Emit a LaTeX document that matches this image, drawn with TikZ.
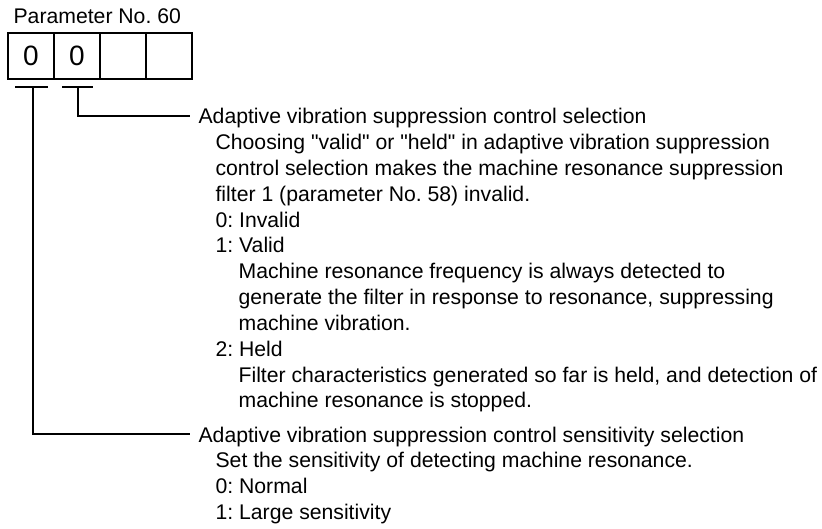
\documentclass[tikz,border=0pt]{standalone}
\usepackage{fontspec}
\newfontfamily\lsans{Liberation Sans}
\frenchspacing

\begin{document}
\begin{tikzpicture}[x=1pt, y=-1pt, line width=1.2pt,
	txt/.style={anchor=base west, inner sep=0pt, font=\lsans\fontsize{21.2}{25.8}\selectfont},
	cell/.style={draw, minimum width=46pt, minimum height=46pt, inner sep=0pt, font=\lsans\fontsize{28}{32}\selectfont}]
	\useasboundingbox (0,0) rectangle (822,529);

	\node[txt] (title) at (13,24) {Parameter No. 60};
	\foreach \d [count=\i from 0] in {0,0,{},{}} {
		\node[cell] (c\i) at (31+46*\i,56) {\d};
	}

	% digit underlines
	\coordinate (u0) at (33,87);
	\coordinate (u1) at (78,87);
	\draw ([xshift=-18pt]u0) -- ([xshift=15pt]u0);
	\draw ([xshift=-16pt]u1) -- ([xshift=15pt]u1);

	\node[txt] (sel) at (198,124) {Adaptive vibration suppression control selection};
	\foreach \x/\t [count=\i] in {
			215/{Choosing "valid" or "held" in adaptive vibration suppression},
			215/{control selection makes the machine resonance suppression},
			215/{filter 1 (parameter No. 58) invalid.},
			215/{0: Invalid},
			215/{1: Valid},
			238/{Machine resonance frequency is always detected to},
			238/{generate the filter in response to resonance, suppressing},
			238/{machine vibration.},
			215/{2: Held},
			238/{Filter characteristics generated so far is held, and detection of},
			238/{machine resonance is stopped.}} {
		\node[txt] (d\i) at (\x,124+25.8*\i) {\t};
	}

	\node[txt] (sens) at (198,442) {Adaptive vibration suppression control sensitivity selection};
	\foreach \t [count=\i] in {
			{Set the sensitivity of detecting machine resonance.},
			{0: Normal},
			{1: Large sensitivity}} {
		\node[txt] (s\i) at (215,442+25.8*\i) {\t};
	}

	\draw (u1) |- ([xshift=-8pt,yshift=8pt]sel.base west);
	\draw (u0) |- ([xshift=-8pt,yshift=8pt]sens.base west);
\end{tikzpicture}
\end{document}
